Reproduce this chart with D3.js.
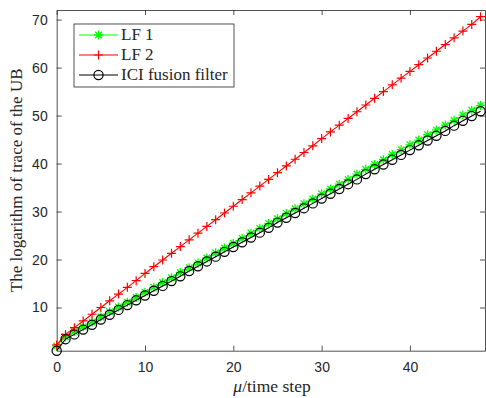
<!DOCTYPE html>
<html>
<head>
<meta charset="utf-8">
<script src="https://cdn.jsdelivr.net/npm/d3@7"></script>
<style>
	body { margin: 0; background: #fff; }
	svg { display: block; }
	.tick text { font-family: "Liberation Sans", Arial, sans-serif; font-size: 14px; fill: #262626; }
	.lbl { font-family: "Liberation Serif", "Times New Roman", serif; fill: #262626; }
</style>
</head>
<body>
<svg width="486" height="398"></svg>
<script>
// time steps 0..48
var steps = d3.range(0, 49)

var lf1 = [2.0, 3.9, 5.0, 6.0, 7.0, 8.0, 9.1, 10.1, 11.1, 12.1, 13.2, 14.2, 15.2, 16.2, 17.3, 18.3, 19.3,
	20.3, 21.4, 22.4, 23.4, 24.4, 25.5, 26.5, 27.5, 28.5, 29.6, 30.6, 31.6, 32.6, 33.7, 34.7, 35.7,
	36.7, 37.8, 38.8, 39.8, 40.8, 41.9, 42.9, 43.9, 44.9, 46.0, 47.0, 48.0, 49.0, 50.1, 51.1, 52.1]

var lf2 = [2.2, 4.4, 5.8, 7.2, 8.6, 10.0, 11.4, 12.8, 14.2, 15.6, 17.1, 18.5, 19.9, 21.3, 22.7, 24.1, 25.5,
	26.9, 28.3, 29.7, 31.1, 32.5, 33.9, 35.3, 36.7, 38.1, 39.5, 40.9, 42.3, 43.7, 45.2, 46.6, 48.0,
	49.4, 50.8, 52.2, 53.6, 55.0, 56.4, 57.8, 59.2, 60.6, 62.0, 63.4, 64.8, 66.2, 67.6, 69.0, 70.6]

var ici = [1.0, 3.4, 4.4, 5.4, 6.4, 7.5, 8.5, 9.5, 10.5, 11.5, 12.5, 13.5, 14.5, 15.5, 16.5, 17.6, 18.6,
	19.6, 20.6, 21.6, 22.6, 23.6, 24.6, 25.6, 26.6, 27.7, 28.7, 29.7, 30.7, 31.7, 32.7, 33.7, 34.7,
	35.7, 36.7, 37.8, 38.8, 39.8, 40.8, 41.8, 42.8, 43.8, 44.8, 45.8, 46.8, 47.9, 48.9, 49.9, 50.9]

var xTicks = [0, 10, 20, 30, 40]
var yTicks = [10, 20, 30, 40, 50, 60, 70]
var names = ["LF 1", "LF 2", "ICI fusion filter"]

var svg = d3.select("svg")
// note: "top" is taken by window.top, so keep the box edges in an object
var box = { l: 56.7, r: 485, t: 10, b: 350.7 }
var axisColor = "#262626"

var x = d3.scaleLinear().domain([0, 48.5]).range([box.l, box.r])
var y = d3.scaleLinear().domain([1, 72]).range([box.b, box.t])

// axes, MATLAB style: ticks pointing inward, box on all sides
function styleAxis(g) {
	g.select(".domain").attr("stroke", axisColor).attr("stroke-width", 0.8)
	g.selectAll(".tick line").attr("stroke", axisColor).attr("stroke-width", 0.8)
}
svg.append("g").attr("transform", `translate(0,${box.b})`)
	.call(d3.axisBottom(x).tickValues(xTicks).tickSizeInner(-5).tickSizeOuter(0).tickPadding(11))
	.call(styleAxis)
svg.append("g").attr("transform", `translate(0,${box.t})`)
	.call(d3.axisTop(x).tickValues(xTicks).tickSizeInner(-5).tickSizeOuter(0).tickFormat(""))
	.call(styleAxis)
svg.append("g").attr("transform", `translate(${box.l},0)`)
	.call(d3.axisLeft(y).tickValues(yTicks).tickSizeInner(-5).tickSizeOuter(0).tickPadding(9))
	.call(styleAxis)
svg.append("g").attr("transform", `translate(${box.r},0)`)
	.call(d3.axisRight(y).tickValues(yTicks).tickSizeInner(-5).tickSizeOuter(0).tickFormat(""))
	.call(styleAxis)

var series = [
	{ name: names[0], values: lf1, color: "#00ff00", marker: "star" },
	{ name: names[1], values: lf2, color: "#ff0000", marker: "plus" },
	{ name: names[2], values: ici, color: "#000000", marker: "circle" }
]

function drawMarker(g, type, color) {
	if (type == "circle") {
		g.append("circle").attr("r", 4.6).attr("fill", "none")
			.attr("stroke", color).attr("stroke-width", 1.2)
	} else if (type == "plus") {
		g.append("path").attr("d", "M-4.5,0H4.5M0,-4.5V4.5")
			.attr("stroke", color).attr("stroke-width", 1.2)
	} else {
		g.append("path").attr("d", "M-4.5,0H4.5M0,-4.5V4.5M-3.3,-3.3L3.3,3.3M-3.3,3.3L3.3,-3.3")
			.attr("stroke", color).attr("stroke-width", 1.3)
	}
}

var line = d3.line().x((d, i) => x(steps[i])).y(d => y(d))

series.forEach(s => {
	svg.append("path").datum(s.values)
		.attr("d", line)
		.attr("fill", "none")
		.attr("stroke", s.color)
		.attr("stroke-width", 1.1)
	svg.selectAll(null).data(s.values).enter()
		.append("g")
		.attr("transform", (d, i) => `translate(${x(steps[i])},${y(d)})`)
		.each(function() { drawMarker(d3.select(this), s.marker, s.color) })
})

// axis labels
svg.append("text").attr("class", "lbl")
	.attr("x", 272).attr("y", 392)
	.attr("text-anchor", "middle").style("font-size", "17.5px")
	.html('<tspan font-style="italic">μ</tspan>/time step')
svg.append("text").attr("class", "lbl")
	.attr("transform", `translate(22,${(box.t + box.b) / 2}) rotate(-90)`)
	.attr("text-anchor", "middle").style("font-size", "17px")
	.text("The logarithm of trace of the UB")

// legend
var legend = svg.append("g")
legend.append("rect")
	.attr("x", 74).attr("y", 24).attr("width", 160).attr("height", 63)
	.attr("fill", "#fff").attr("stroke", axisColor).attr("stroke-width", 0.8)
series.forEach((s, i) => {
	var ly = 35 + i * 20
	legend.append("line").attr("x1", 79).attr("x2", 118).attr("y1", ly).attr("y2", ly)
		.attr("stroke", s.color).attr("stroke-width", 1.1)
	var m = legend.append("g").attr("transform", `translate(98.5,${ly})`)
	drawMarker(m, s.marker, s.color)
	legend.append("text").attr("class", "lbl")
		.attr("x", 121).attr("y", ly + 5).style("font-size", "17px")
		.text(s.name)
})
</script>
</body>
</html>
